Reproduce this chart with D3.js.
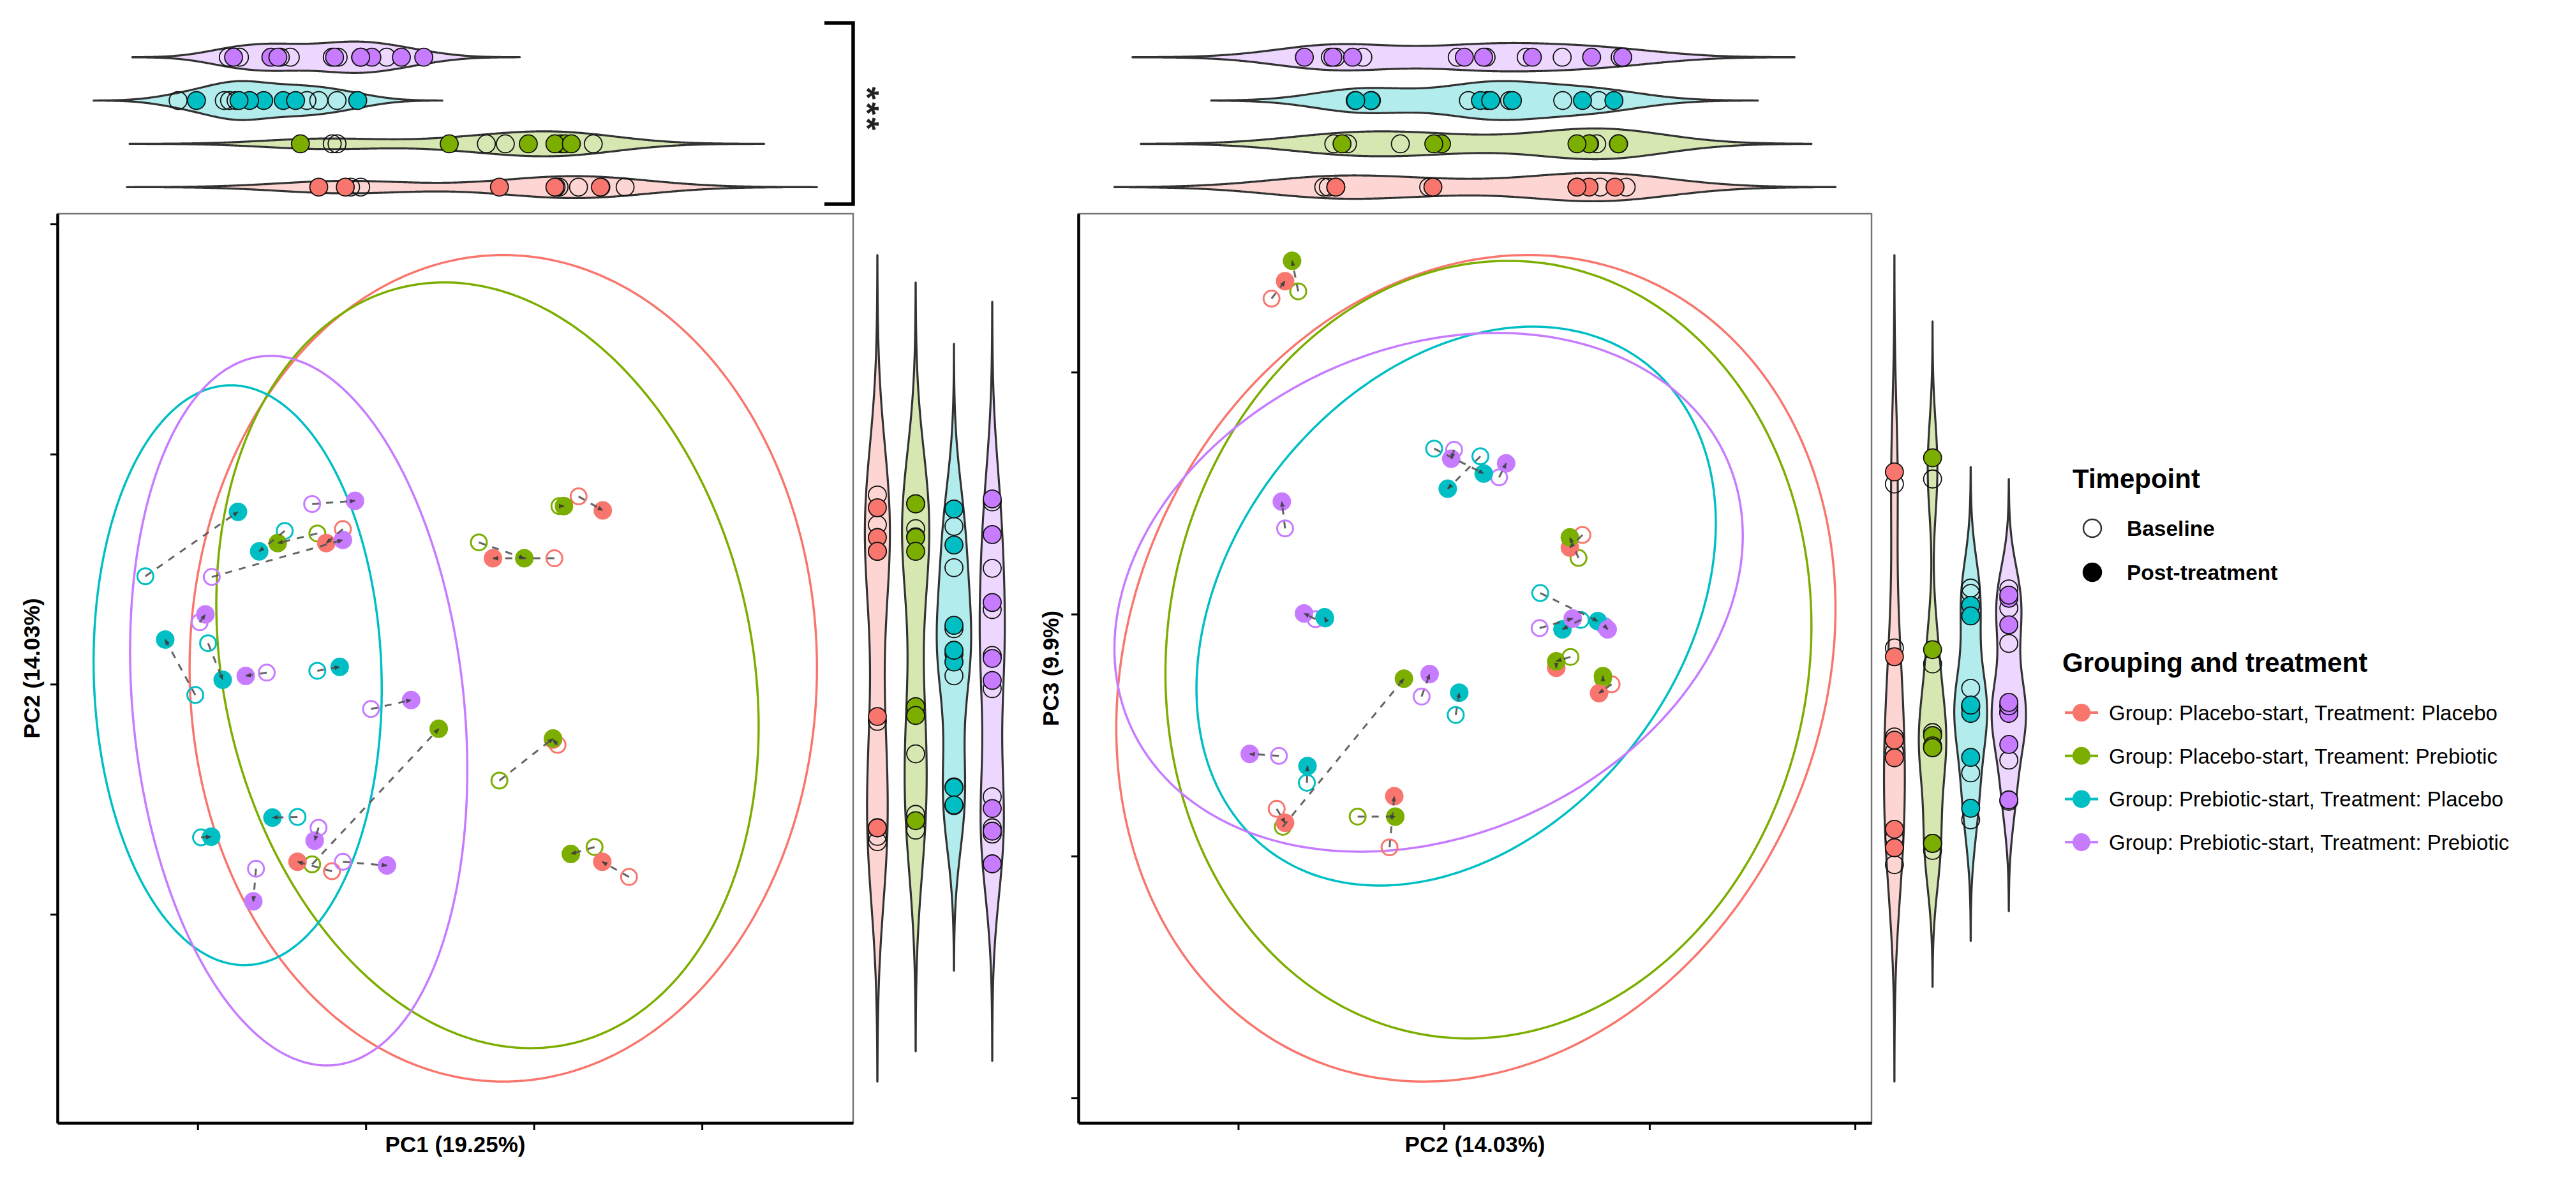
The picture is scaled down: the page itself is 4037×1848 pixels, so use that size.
<!DOCTYPE html>
<html><head><meta charset="utf-8">
<script src="https://cdn.jsdelivr.net/npm/d3@7"></script>
<style>
body{margin:0;background:#fff}
svg{display:block}
text{font-family:"Liberation Sans",Arial,Helvetica,sans-serif}
</style>
</head><body>
<svg id="chart" width="4037" height="1848"></svg>
<script>
// ---------------- DATA ----------------
const groupLabels = [
  "Group: Placebo-start, Treatment: Placebo",
  "Group: Placebo-start, Treament: Prebiotic",
  "Group: Prebiotic-start, Treatment: Placebo",
  "Group: Prebiotic-start, Treatment: Prebiotic"
];
const groupColors = ["#F8766D", "#7CAE00", "#00BFC4", "#C77CFF"];
const timepointLabels = ["Baseline", "Post-treatment"];
const axisTitles = { pc1: "PC1 (19.25%)", pc2: "PC2 (14.03%)", pc3: "PC3 (9.9%)" };
const significance = "***";

// one row per subject: [PC1, PC2, PC3]
const placeboPlaceboBaseline = [
  [-0.1136, 0.0674, 0.0327], [0.0266, 0.0816, -0.0290], [0.0122, 0.0547, -0.0203],
  [0.0141, -0.0264, -0.0964], [-0.1201, -0.0813, -0.0805], [0.0566, -0.0838, 0.1304]
];
const placeboPlaceboPost = [
  [-0.1235, 0.0613, 0.0275], [0.0410, 0.0755, -0.0327], [-0.0243, 0.0547, -0.0222],
  [0.0114, -0.0241, -0.0753], [-0.1406, -0.0772, -0.0863], [0.0407, -0.0772, 0.1376]
];
const placeboPrebioticBaseline = [
  [-0.1288, 0.0655, 0.0232], [-0.0327, 0.0616, -0.0177], [0.0152, 0.0774, -0.0267],
  [-0.1319, -0.0783, -0.0879], [-0.0205, -0.0419, -0.0837], [0.0361, -0.0708, 0.1334]
];
const placeboPrebioticPost = [
  [-0.1524, 0.0613, 0.0317], [-0.0057, 0.0547, -0.0195], [0.0179, 0.0774, -0.0256],
  [-0.0566, -0.0194, -0.0267], [0.0114, -0.0236, -0.0837], [0.0220, -0.0738, 0.1460]
];
const prebioticPlaceboBaseline = [
  [-0.2311, 0.0469, 0.0087], [-0.1482, 0.0666, -0.0024], [-0.2014, -0.0047, 0.0684],
  [-0.1938, 0.0178, 0.0652], [-0.1288, 0.0058, -0.0417], [-0.1406, -0.0577, -0.0018],
  [-0.1980, -0.0666, -0.0697]
];
const prebioticPlaceboPost = [
  [-0.1760, 0.0749, -0.0029], [-0.1634, 0.0577, -0.0063], [-0.2193, 0.0194, 0.0581],
  [-0.1851, 0.0019, 0.0518], [-0.1155, 0.0075, -0.0325], [-0.1555, -0.0580, -0.0013],
  [-0.1919, -0.0663, -0.0628]
];
const prebioticPrebioticBaseline = [
  [-0.1319, 0.0783, -0.0050], [-0.1916, 0.0466, -0.0058], [-0.1988, 0.0269, 0.0565],
  [-0.1589, 0.0050, 0.0679], [-0.0969, -0.0108, -0.0341], [-0.1281, -0.0624, -0.0021],
  [-0.1136, -0.0772, 0.0354], [-0.1653, -0.0802, -0.0586]
];
const prebioticPrebioticPost = [
  [-0.1064, 0.0797, -0.0063], [-0.1136, 0.0627, -0.0018], [-0.1954, 0.0303, 0.0623],
  [-0.1714, 0.0036, 0.0642], [-0.0730, -0.0069, -0.0248], [-0.1304, -0.0680, 0.0003],
  [-0.0874, -0.0788, 0.0465], [-0.1669, -0.0944, -0.0578]
];
// 95% ellipses: [centreX, centreY, halfExtentX, halfExtentY, tilt]
const ellipsesPC1PC2 = [
  [-0.0182, 0.0069, 0.1866, 0.1796, 0.0],
  [-0.0276, 0.0082, 0.1613, 0.1664, -0.16],
  [-0.1762, 0.0039, 0.0857, 0.1260, -0.047],
  [-0.1399, -0.0115, 0.1003, 0.1542, -0.168]
];
const ellipsesPC2PC3 = [
  [0.0156, -0.0224, 0.1749, 0.1708, 0.145],
  [0.0217, -0.0147, 0.1571, 0.1607, 0.061],
  [0.0060, 0.0033, 0.1263, 0.1155, 0.30],
  [-0.0074, 0.0090, 0.1528, 0.1072, 0.22]
];
const tickValuesPC1 = [-0.2, -0.1, 0.0, 0.1];
const tickValuesPC2 = [-0.1, 0.0, 0.1, 0.2];
const tickValuesPC3 = [-0.2, -0.1, 0.0, 0.1];

// ---------------- BUILD ----------------
const baselines = [placeboPlaceboBaseline, placeboPrebioticBaseline, prebioticPlaceboBaseline, prebioticPrebioticBaseline];
const posts = [placeboPlaceboPost, placeboPrebioticPost, prebioticPlaceboPost, prebioticPrebioticPost];
const samples = [];
const pairs = [];
baselines.forEach((arr, g) => arr.forEach((b, i) => {
  const p = posts[g][i];
  const sb = {g, t: 0, pc: b}, sp = {g, t: 1, pc: p};
  samples.push(sb); samples.push(sp);
  pairs.push({g, b: sb, p: sp});
}));
const baseSamples = samples.filter(s => s.t === 0);
const postSamples = samples.filter(s => s.t === 1);

const svg = d3.select("#chart");
const defs = svg.append("defs");
defs.append("marker").attr("id", "arr").attr("viewBox", "0 -5 10 10")
  .attr("refX", 9).attr("refY", 0).attr("markerWidth", 9).attr("markerHeight", 9)
  .attr("markerUnits", "userSpaceOnUse").attr("orient", "auto")
  .append("path").attr("d", "M0,-4L10,0L0,4").attr("fill", "#3a3a3a");

function ellipsePts(e) {
  return d3.range(0, 361).map(i => {
    const t = i / 360 * 2 * Math.PI;
    return [e[0] + e[2] * Math.cos(t), e[1] + e[3] * Math.sin(t + e[4])];
  });
}
function expand(ext) { const d = ext[1] - ext[0]; return [ext[0] - 0.05 * d, ext[1] + 0.05 * d]; }

const R = 14;

function scatterPanel(P, ix, iy, ells, xt, yt, xTitle, yTitle, yTitleX) {
  const ePts = ells.map(ellipsePts);
  const allX = samples.map(s => s.pc[ix]).concat(ePts.flat().map(p => p[0]));
  const allY = samples.map(s => s.pc[iy]).concat(ePts.flat().map(p => p[1]));
  const xs = d3.scaleLinear().domain(expand(d3.extent(allX))).range([P.x0, P.x1]);
  const ys = d3.scaleLinear().domain(expand(d3.extent(allY))).range([P.y1, P.y0]);
  const g = svg.append("g");
  g.append("rect").attr("x", P.x0).attr("y", P.y0).attr("width", P.x1 - P.x0).attr("height", P.y1 - P.y0)
    .attr("fill", "#fff").attr("stroke", "#777").attr("stroke-width", 2.5);
  const line = d3.line().x(d => xs(d[0])).y(d => ys(d[1]));
  g.selectAll(".ell").data(ePts).join("path").attr("d", line).attr("fill", "none")
    .attr("stroke", (d, i) => groupColors[i]).attr("stroke-width", 3.5);
  g.selectAll(".pb").data(baseSamples).join("circle")
    .attr("cx", d => xs(d.pc[ix])).attr("cy", d => ys(d.pc[iy])).attr("r", R - 1.5)
    .attr("fill", "none").attr("stroke", d => groupColors[d.g]).attr("stroke-width", 3);
  g.selectAll(".pp").data(postSamples).join("circle")
    .attr("cx", d => xs(d.pc[ix])).attr("cy", d => ys(d.pc[iy])).attr("r", R + 0.5)
    .attr("fill", d => groupColors[d.g]);
  g.selectAll(".seg").data(pairs).join("line")
    .attr("x1", d => xs(d.b.pc[ix])).attr("y1", d => ys(d.b.pc[iy]))
    .attr("x2", d => xs(d.p.pc[ix])).attr("y2", d => ys(d.p.pc[iy]))
    .attr("stroke", "#555").attr("stroke-width", 3).attr("stroke-dasharray", "11,11")
    .attr("marker-end", "url(#arr)").attr("opacity", 0.9);
  // axes
  const xa = g.append("g").attr("transform", `translate(0,${P.y1})`)
    .call(d3.axisBottom(xs).tickValues(xt).tickFormat("").tickSizeOuter(0).tickSizeInner(11));
  const ya = g.append("g").attr("transform", `translate(${P.x0},0)`)
    .call(d3.axisLeft(ys).tickValues(yt).tickFormat("").tickSizeOuter(0).tickSizeInner(11));
  [xa, ya].forEach(a => {
    a.select(".domain").attr("stroke", "#000").attr("stroke-width", 4.5);
    a.selectAll(".tick line").attr("stroke", "#000").attr("stroke-width", 3);
  });
  g.append("text").attr("x", (P.x0 + P.x1) / 2).attr("y", 1806).attr("text-anchor", "middle")
    .attr("font-size", 35).attr("font-weight", "bold").text(xTitle);
  g.append("text").attr("transform", `translate(${yTitleX},${(P.y0 + P.y1) / 2}) rotate(-90)`)
    .attr("text-anchor", "middle").attr("font-size", 35).attr("font-weight", "bold").text(yTitle);
}

function bwNrd0(v) {
  const s = v.slice().sort(d3.ascending);
  const hi = d3.deviation(s);
  const iqr = d3.quantileSorted(s, 0.75) - d3.quantileSorted(s, 0.25);
  let lo = Math.min(hi, iqr / 1.34);
  if (!(lo > 0)) lo = hi || Math.abs(s[0]) || 1;
  return 0.9 * lo * Math.pow(s.length, -0.2);
}
function kde(v) {
  const bw = bwNrd0(v);
  const from = d3.min(v) - 3 * bw, to = d3.max(v) + 3 * bw;
  const n = 512, c = 1 / (v.length * bw * Math.sqrt(2 * Math.PI));
  const pts = d3.range(n).map(i => {
    const x = from + (to - from) * i / (n - 1);
    return [x, c * d3.sum(v, xi => Math.exp(-0.5 * ((x - xi) / bw) ** 2))];
  });
  return {from, to, pts};
}

// marginal violins: orient "top" (value along x) or "right" (value along y)
function violins(idx, orient, valRange, catRange) {
  const vals = [0, 1, 2, 3].map(g => samples.filter(s => s.g === g).map(s => s.pc[idx]));
  const ks = vals.map(kde);
  const maxD = d3.max(ks, k => d3.max(k.pts, p => p[1]));
  const vs = d3.scaleLinear().domain(expand([d3.min(ks, k => k.from), d3.max(ks, k => k.to)])).range(valRange);
  const cat = d3.scalePoint().domain(orient === "top" ? [3, 2, 1, 0] : [0, 1, 2, 3]).range(catRange).padding(0.6);
  const hw = 0.45 * cat.step();
  const g = svg.append("g");
  ks.forEach((k, gi) => {
    const c = cat(gi);
    let area;
    if (orient === "top") area = d3.area().x(p => vs(p[0])).y0(p => c - p[1] / maxD * hw).y1(p => c + p[1] / maxD * hw);
    else area = d3.area().y(p => vs(p[0])).x0(p => c - p[1] / maxD * hw).x1(p => c + p[1] / maxD * hw);
    g.append("path").attr("d", area(k.pts)).attr("fill", groupColors[gi]).attr("fill-opacity", 0.3)
      .attr("stroke", "#333").attr("stroke-width", 3.2).attr("stroke-linejoin", "round");
  });
  const pos = s => orient === "top" ? [vs(s.pc[idx]), cat(s.g)] : [cat(s.g), vs(s.pc[idx])];
  g.selectAll(".vb").data(baseSamples).join("circle")
    .attr("cx", d => pos(d)[0]).attr("cy", d => pos(d)[1]).attr("r", R)
    .attr("fill", "none").attr("stroke", "#111").attr("stroke-width", 1.8);
  g.selectAll(".vp").data(postSamples).join("circle")
    .attr("cx", d => pos(d)[0]).attr("cy", d => pos(d)[1]).attr("r", R)
    .attr("fill", d => groupColors[d.g]).attr("stroke", "#111").attr("stroke-width", 1.8);
}

const P1 = {x0: 90, x1: 1337, y0: 335, y1: 1760};
const P2 = {x0: 1690, x1: 2933, y0: 335, y1: 1760};

violins(0, "top", [P1.x0, P1.x1], [49, 334]);
violins(1, "top", [P2.x0, P2.x1], [49, 334]);
violins(1, "right", [P1.y1, P1.y0], [1339, 1591]);
violins(2, "right", [P2.y1, P2.y0], [2933, 3184]);

scatterPanel(P1, 0, 1, ellipsesPC1PC2, tickValuesPC1, tickValuesPC2, axisTitles.pc1, axisTitles.pc2, 62);
scatterPanel(P2, 1, 2, ellipsesPC2PC3, tickValuesPC2, tickValuesPC3, axisTitles.pc2, axisTitles.pc3, 1659);

// significance bracket
svg.append("path").attr("d", "M1292,36H1337V320H1292").attr("fill", "none")
  .attr("stroke", "#000").attr("stroke-width", 5.5);
svg.append("text").attr("transform", "translate(1341,172) rotate(90)")
  .attr("text-anchor", "middle").attr("font-size", 52).attr("font-weight", "bold")
  .attr("fill", "#222").attr("letter-spacing", 4).text(significance);

// legend
const lg = svg.append("g");
lg.append("text").attr("x", 3248).attr("y", 765).attr("font-size", 42).attr("font-weight", "bold").text("Timepoint");
timepointLabels.forEach((t, i) => {
  const cy = 828 + i * 69;
  lg.append("circle").attr("cx", 3279).attr("cy", cy).attr("r", 14)
    .attr("fill", i === 0 ? "none" : "#000").attr("stroke", i === 0 ? "#333" : "#000").attr("stroke-width", 2.5);
  lg.append("text").attr("x", 3333).attr("y", cy + 12).attr("font-size", 33.5).attr("font-weight", "bold").text(t);
});
lg.append("text").attr("x", 3232).attr("y", 1053).attr("font-size", 42).attr("font-weight", "bold").text("Grouping and treatment");
groupLabels.forEach((t, i) => {
  const cy = 1117 + i * 67.7;
  lg.append("line").attr("x1", 3236).attr("x2", 3288).attr("y1", cy).attr("y2", cy)
    .attr("stroke", groupColors[i]).attr("stroke-width", 4);
  lg.append("circle").attr("cx", 3262).attr("cy", cy).attr("r", 14).attr("fill", groupColors[i]);
  lg.append("text").attr("x", 3305).attr("y", cy + 12).attr("font-size", 33).text(t);
});
</script>
</body></html>
